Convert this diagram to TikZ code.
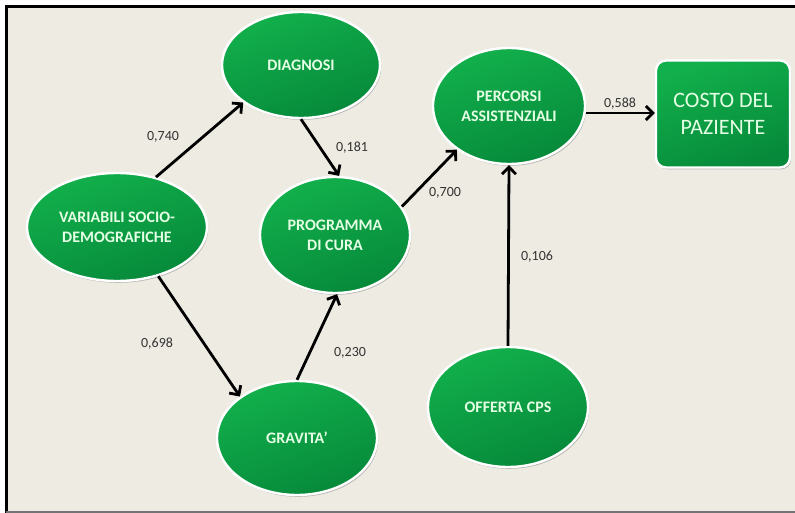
\documentclass[tikz,border=0pt]{standalone}
\usepackage{fontspec}
\setmainfont{Carlito}
\usetikzlibrary{shapes.geometric,arrows.meta,shadows}
\definecolor{bgc}{HTML}{EEEBE2}
\definecolor{gl}{HTML}{12B04C}
\definecolor{gd}{HTML}{06893A}
\definecolor{lab}{HTML}{333333}
\tikzset{
  ell/.style={ellipse, draw=white, line width=2.4pt, top color=gl, bottom color=gd, shading angle=20,
    minimum width=2*#1, align=center, text=white!90!green, inner sep=0pt,
    font=\bfseries\fontsize{16}{20}\selectfont,
    drop shadow={shadow xshift=1.2pt, shadow yshift=-1.8pt, fill=black!50, opacity=0.5}},
  box/.style={rounded corners=10pt, draw=white, line width=2.4pt, top color=gl, bottom color=gd, shading angle=20,
    minimum width=134pt, minimum height=107pt, align=center, text=white!90!green,
    font=\fontsize{22}{27}\selectfont,
    drop shadow={shadow xshift=1.2pt, shadow yshift=-1.8pt, fill=black!50, opacity=0.5}},
  arr/.style={-{Straight Barb[length=7pt,width=14pt]}, line width=2.8pt, black},
  lbl/.style={font=\fontsize{14}{16}\selectfont, text=lab}
}
\begin{document}
\begin{tikzpicture}[x=1pt,y=-1pt]
\useasboundingbox (0,0) rectangle (795,513);
\fill[white] (0,0) rectangle (795,513);
\fill[bgc] (6,6) rectangle (795,511);
\draw[black, line width=2.8pt] (6.5,513) -- (6.5,6.5) -- (795,6.5);
\draw[black!55, line width=2pt] (6,512) -- (795,512);

\node[ell=79pt, minimum height=106pt] (diag) at (301,65) {DIAGNOSI};
\node[ell=90pt, minimum height=108pt] (var) at (117,227) {VARIABILI SOCIO-\\DEMOGRAFICHE};
\node[ell=75pt, minimum height=116pt] (prog) at (335,235) {PROGRAMMA\\DI CURA};
\node[ell=80pt, minimum height=114pt] (grav) at (297,438) {GRAVITA'};
\node[ell=76pt, minimum height=116pt] (perc) at (509,106) {PERCORSI\\ASSISTENZIALI};
\node[ell=80pt, minimum height=120pt] (off) at (508,407) {OFFERTA CPS};
\node[box] (costo) at (723,114) {COSTO DEL\\PAZIENTE};

\draw[arr] (var.52) -- (diag.-147);
\draw[arr] (diag.-90) -- (prog.86);
\draw[arr] (var.-50) -- (grav.144);
\draw[arr] (grav.90) -- (prog.-88);
\draw[arr] (prog.23) -- (perc.-140);
\draw[arr] (off.north) -- (perc.south);
\draw[arr] (perc.east |- 0,113) -- (costo.west |- 0,113);

\node[lbl] (l1) at (163,137) {0,740};
\node[lbl] (l2) at (352,148) {0,181};
\node[lbl] (l3) at (157,344) {0,698};
\node[lbl] (l4) at (350,353) {0,230};
\node[lbl] (l5) at (445,193) {0,700};
\node[lbl] (l6) at (537,257) {0,106};
\node[lbl] (l7) at (620,104) {0,588};
\end{tikzpicture}
\end{document}
